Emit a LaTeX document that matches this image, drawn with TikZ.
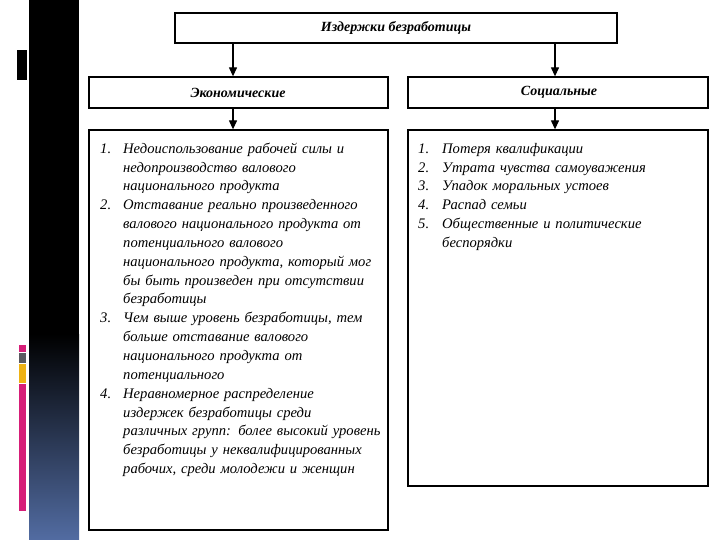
\documentclass[tikz,border=0pt]{standalone}
\usepackage{fontspec}
\setmainfont{Liberation Serif}
\usetikzlibrary{arrows.meta}
\definecolor{bandblue}{RGB}{82,108,162}
\definecolor{stripepink}{RGB}{214,30,120}
\definecolor{stripegray}{RGB}{90,90,96}
\definecolor{stripeyellow}{RGB}{238,178,20}
\begin{document}
\begin{tikzpicture}[x=1pt,y=-1pt,
  box/.style={draw=black, line width=1.3pt, inner sep=0pt, rectangle},
  headtext/.style={font=\fontsize{14}{16}\selectfont\bfseries\itshape},
  listtext/.style={inner sep=0pt, anchor=north west, align=left,
    font=\fontsize{14.6}{18.85}\selectfont\itshape},
  conn/.style={line width=1.2pt, -{Triangle[width=8pt,length=9pt]}}]
\useasboundingbox (0,0) rectangle (720,540);
% decorative left band
\fill[black] (29,0) rectangle (79,335);
\shade[top color=black, bottom color=bandblue] (29,334) rectangle (79,540);
\fill[black] (17,50) rectangle (27,80);
\fill[stripepink] (19,345) rectangle (26,352);
\fill[stripegray] (19,353) rectangle (26,363);
\fill[stripeyellow] (19,364) rectangle (26,383);
\fill[stripepink] (19,384) rectangle (26,511);
% boxes
\node[box, minimum width=442pt, minimum height=30pt, headtext] (top) at (396,28) {Издержки безработицы};
\node[box, minimum width=299pt, minimum height=31pt] (econ) at (238.5,92.5) {};
\node[headtext] (econt) at (238,92.5) {Экономические};
\node[box, minimum width=300pt, minimum height=31pt] (soc) at (558,92.5) {};
\node[headtext] (soct) at (559,92.5) {Социальные};
\node[box, minimum width=299pt, minimum height=400pt] (econlist) at (238.5,330) {};
\node[box, minimum width=300pt, minimum height=356pt] (soclist) at (558,308) {};
% arrow positions
\coordinate (ax) at (233,0);
\coordinate (bx) at (555,0);
\draw[conn] (top.south -| ax) -- (econ.north -| ax);
\draw[conn] (top.south -| bx) -- (soc.north -| bx);
\draw[conn] (econ.south -| ax) -- (econlist.north -| ax);
\draw[conn] (soc.south -| bx) -- (soclist.north -| bx);
% lists
\node[listtext, text width=284pt] (el) at (100,139.8) {\raggedright
\hangindent=23pt\hangafter=1\noindent\strut\makebox[23pt][l]{1.}Недоиспользование рабочей силы и\newline недопроизводство валового\newline национального продукта\par
\hangindent=23pt\hangafter=1\noindent\makebox[23pt][l]{2.}Отставание реально произведенного\newline валового национального продукта от\newline потенциального валового\newline национального продукта, который мог\newline бы быть произведен при отсутствии\newline безработицы\par
\hangindent=23pt\hangafter=1\noindent\makebox[23pt][l]{3.}Чем выше уровень безработицы, тем\newline больше отставание валового\newline национального продукта от\newline потенциального\par
\hangindent=23pt\hangafter=1\noindent\makebox[23pt][l]{4.}Неравномерное распределение\newline издержек безработицы среди\newline различных групп: более высокий уровень\newline безработицы у неквалифицированных\newline рабочих, среди молодежи и женщин\par};
\node[listtext, text width=285pt] (sl) at (418,139.8) {\raggedright
\hangindent=24pt\hangafter=1\noindent\strut\makebox[24pt][l]{1.}Потеря квалификации\par
\hangindent=24pt\hangafter=1\noindent\makebox[24pt][l]{2.}Утрата чувства самоуважения\par
\hangindent=24pt\hangafter=1\noindent\makebox[24pt][l]{3.}Упадок моральных устоев\par
\hangindent=24pt\hangafter=1\noindent\makebox[24pt][l]{4.}Распад семьи\par
\hangindent=24pt\hangafter=1\noindent\makebox[24pt][l]{5.}Общественные и политические\newline беспорядки\par};
\end{tikzpicture}
\end{document}
